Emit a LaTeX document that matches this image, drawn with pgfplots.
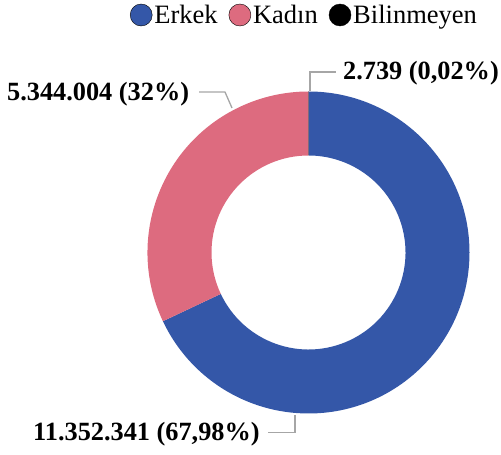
\documentclass[border=0pt]{standalone}
\usepackage{pgfplots}
\usepackage{pgfplotstable}
\pgfplotsset{compat=1.18}
\usepackage{fontspec}
\setmainfont{Liberation Serif}
\definecolor{erkek}{HTML}{3457A8}
\definecolor{kadin}{HTML}{DD6B7F}
\definecolor{leader}{HTML}{A6A6A6}
% values in millions
\pgfplotstableread{
label value
Erkek 11.352341
Kadin 5.344004
Bilinmeyen 0.002739
}\datatable
\begin{document}
\begin{tikzpicture}[x=1pt,y=1pt]
\useasboundingbox (0,0) rectangle (501,455);
\pgfplotstablegetelem{0}{value}\of\datatable \let\va\pgfplotsretval
\pgfplotstablegetelem{1}{value}\of\datatable \let\vb\pgfplotsretval
\pgfplotstablegetelem{2}{value}\of\datatable \let\vc\pgfplotsretval
\pgfmathsetmacro\tot{\va+\vb+\vc}
\pgfmathsetmacro\aA{90}
\pgfmathsetmacro\aB{\aA-360*\va/\tot}
\pgfmathsetmacro\aC{\aB-360*\vb/\tot}
\pgfmathsetmacro\aD{\aC-360*\vc/\tot}
\def\Ro{161}\def\Ri{97}
\begin{axis}[at={(308.5pt,202.5pt)}, anchor=center, x=1pt, y=1pt,
  xmin=-175, xmax=175, ymin=-175, ymax=175, hide axis, clip=false,
  legend style={at={(130pt-308.5pt+175pt,440pt-202.5pt+175pt)}, anchor=west, draw=none, fill=none,
    inner sep=0pt, outer sep=0pt,
    legend columns=-1, font=\fontsize{26.5}{30}\selectfont,
    nodes={inner sep=0pt},
    /tikz/every odd column/.append style={column sep=2pt},
    /tikz/every even column/.append style={column sep=11pt}},
  legend image code/.code={\fill[#1] (11pt,0pt) circle[radius=11pt];}
]
\addlegendimage{fill=erkek}
\addlegendentry{Erkek}
\addlegendimage{fill=kadin}
\addlegendentry{Kadın}
\addlegendimage{fill=black}
\addlegendentry{Bilinmeyen}
\fill[erkek] (axis cs:{\Ro*cos(\aA)},{\Ro*sin(\aA)}) arc[start angle=\aA, end angle=\aB, radius=\Ro pt]
  -- (axis cs:{\Ri*cos(\aB)},{\Ri*sin(\aB)}) arc[start angle=\aB, end angle=\aA, radius=\Ri pt] -- cycle;
\fill[kadin] (axis cs:{\Ro*cos(\aB)},{\Ro*sin(\aB)}) arc[start angle=\aB, end angle=\aC, radius=\Ro pt]
  -- (axis cs:{\Ri*cos(\aC)},{\Ri*sin(\aC)}) arc[start angle=\aC, end angle=\aB, radius=\Ri pt] -- cycle;
\fill[black] (axis cs:{\Ro*cos(\aC)},{\Ro*sin(\aC)}) arc[start angle=\aC, end angle=\aD, radius=\Ro pt]
  -- (axis cs:{\Ri*cos(\aD)},{\Ri*sin(\aD)}) arc[start angle=\aD, end angle=\aC, radius=\Ri pt] -- cycle;
\end{axis}
\draw[leader, line width=1.3pt] (310,363.5) -- (310,383) -- (336,383);
\draw[leader, line width=1.3pt] (199,363) -- (225,363) -- (232,347);
\draw[leader, line width=1.3pt] (268,22.3) -- (295,22.3) -- (295,40);
\node[anchor=base west, inner sep=0pt, font=\fontsize{26.3}{30}\selectfont\bfseries] at (343,375) {2.739 (0,02\%)};
\node[anchor=base west, inner sep=0pt, font=\fontsize{26.3}{30}\selectfont\bfseries] at (7,354) {5.344.004 (32\%)};
\node[anchor=base west, inner sep=0pt, font=\fontsize{26.3}{30}\selectfont\bfseries] at (33,14) {11.352.341 (67,98\%)};
\end{tikzpicture}
\end{document}
